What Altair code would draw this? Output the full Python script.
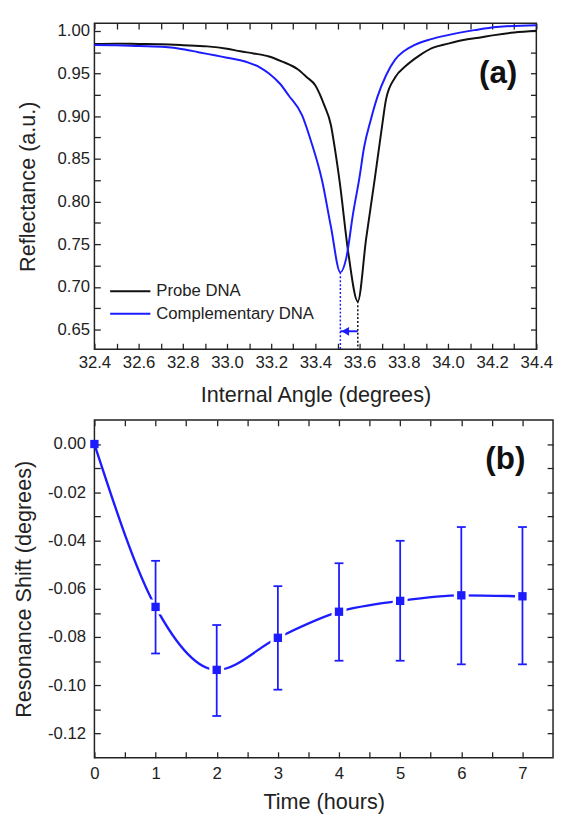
import altair as alt
import pandas as pd

# ---------------- Panel (a): SPR reflectance curves ----------------
probe_angle = [32.40, 32.50, 32.60, 32.70, 32.80, 32.91, 33.00, 33.06, 33.12, 33.19,
               33.25, 33.32, 33.36, 33.40, 33.44, 33.47, 33.49, 33.51, 33.55, 33.592,
               33.63, 33.67, 33.70, 33.72, 33.76, 33.81, 33.87, 33.93, 34.00, 34.07,
               34.14, 34.21, 34.30, 34.40]
probe_refl = [0.9845, 0.9850, 0.9846, 0.9842, 0.9832, 0.9818, 0.9790, 0.9760, 0.9735, 0.9700,
              0.9640, 0.9550, 0.9460, 0.9360, 0.9130, 0.8900, 0.8590, 0.8230, 0.7380, 0.6830,
              0.7570, 0.8290, 0.8850, 0.9200, 0.9450, 0.9590, 0.9710, 0.9800, 0.9850, 0.9893,
              0.9920, 0.9950, 0.9980, 1.0000]

comp_angle = [32.40, 32.50, 32.60, 32.72, 32.80, 32.87, 32.95, 33.00, 33.06, 33.10,
              33.15, 33.19, 33.24, 33.28, 33.34, 33.38, 33.43, 33.47, 33.513, 33.54,
              33.57, 33.60, 33.62, 33.65, 33.68, 33.72, 33.76, 33.80, 33.85, 33.92,
              34.00, 34.12, 34.22, 34.40]
comp_refl = [0.9835, 0.9832, 0.9822, 0.9810, 0.9785, 0.9750, 0.9710, 0.9685, 0.9655, 0.9625,
             0.9570, 0.9500, 0.9380, 0.9240, 0.9010, 0.8710, 0.8250, 0.7710, 0.7170, 0.7340,
             0.7850, 0.8290, 0.8630, 0.8950, 0.9220, 0.9480, 0.9660, 0.9760, 0.9836, 0.9900,
             0.9950, 1.0008, 1.0046, 1.0066]

series_names = ["Probe DNA", "Complementary DNA"]
series_colors = ["#111111", "#1c1cff"]

min_angles = [33.592, 33.513]
min_refls = [0.683, 0.717]
arrow_refl = 0.648

angle_domain = [32.4, 34.4]
refl_domain = [0.627, 1.009]
angle_ticks = [32.4, 32.5, 32.6, 32.7, 32.8, 32.9, 33.0, 33.1, 33.2, 33.3, 33.4,
               33.5, 33.6, 33.7, 33.8, 33.9, 34.0, 34.1, 34.2, 34.3, 34.4]
refl_ticks = [0.65, 0.675, 0.70, 0.725, 0.75, 0.775, 0.80, 0.825, 0.85, 0.875,
              0.90, 0.925, 0.95, 0.975, 1.00]

# ---------------- Panel (b): resonance shift vs time ----------------
time_h = [0, 1, 2, 3, 4, 5, 6, 7]
shift = [0.0, -0.0675, -0.0936, -0.0803, -0.0695, -0.0650, -0.0627, -0.0631]
err_time = [1, 2, 3, 4, 5, 6, 7]
err_low = [-0.0868, -0.1127, -0.1018, -0.0898, -0.0898, -0.0913, -0.0913]
err_high = [-0.0484, -0.0750, -0.0589, -0.0494, -0.0401, -0.0344, -0.0344]

time_domain = [0, 7.5]
shift_domain = [-0.13, 0.01]
time_ticks = [0, 0.5, 1, 1.5, 2, 2.5, 3, 3.5, 4, 4.5, 5, 5.5, 6, 6.5, 7]
shift_ticks = [-0.12, -0.11, -0.10, -0.09, -0.08, -0.07, -0.06, -0.05, -0.04,
               -0.03, -0.02, -0.01, 0.00]

BLUE = "#1c1cff"
FONT = "Liberation Sans"
INK = "#222222"

W_A, H_A = 450, 332
W_B, H_B = 467, 344


def axis(orient, values, label_expr=None, title=None, label_pad=6, title_pad=10, labels=True):
    kw = dict(orient=orient, values=values, domain=False, ticks=True, tickSize=6,
              offset=-6, tickWidth=1.3, tickColor=INK, grid=False,
              labelFontSize=17, labelFont=FONT, labelColor=INK, labelPadding=label_pad,
              labelFlush=False, labelOverlap=False, labels=labels,
              titleFontSize=22, titleFont=FONT, titleColor=INK,
              titleFontWeight="normal", titlePadding=title_pad)
    if label_expr is not None:
        kw["labelExpr"] = label_expr
    return alt.Axis(title=title, **kw)


# ---------- chart (a) ----------
curves = pd.DataFrame({
    "angle": probe_angle + comp_angle,
    "refl": probe_refl + comp_refl,
    "series": [series_names[0]] * len(probe_angle) + [series_names[1]] * len(comp_angle),
})
mins = pd.DataFrame({"angle": min_angles, "refl": min_refls, "series": series_names})
arrow = pd.DataFrame({"a1": [min_angles[1]], "a2": [min_angles[0]], "refl": [arrow_refl]})
lab_a = pd.DataFrame({"angle": [34.227], "refl": [0.950], "text": ["(a)"]})

xs_a = alt.Scale(domain=angle_domain, nice=False, zero=False)
ys_a = alt.Scale(domain=refl_domain, nice=False, zero=False)
color_a = alt.Scale(domain=series_names, range=series_colors)

x_lab_a = "round(datum.value*10) % 2 == 0 ? format(datum.value, '.1f') : ''"
y_lab_a = "abs(datum.value*20 - round(datum.value*20)) < 0.001 ? format(datum.value, '.2f') : ''"

line_a = alt.Chart(curves).mark_line(strokeWidth=2, interpolate="monotone").encode(
    x=alt.X("angle:Q", scale=xs_a,
            axis=axis("bottom", angle_ticks, x_lab_a, "Internal Angle (degrees)", 6, 14)),
    y=alt.Y("refl:Q", scale=ys_a,
            axis=axis("left", refl_ticks, y_lab_a, "Reflectance (a.u.)", 5, 18)),
    color=alt.Color("series:N", scale=color_a,
                    legend=alt.Legend(title=None, orient="none", legendX=15, legendY=264,
                                      direction="vertical", symbolType="stroke",
                                      symbolSize=1681, symbolStrokeWidth=2, clipHeight=18,
                                      rowPadding=5, labelFontSize=17, labelFont=FONT,
                                      labelColor=INK, labelOffset=5, labelLimit=0,
                                      padding=0)),
)

dots_a = alt.Chart(mins).mark_rule(strokeDash=[2, 2], strokeWidth=1.5).encode(
    x=alt.X("angle:Q", scale=xs_a, axis=None),
    y=alt.Y("refl:Q", scale=ys_a, axis=None),
    y2=alt.value(H_A),
    color=alt.Color("series:N", scale=color_a, legend=None),
)

arrow_line = alt.Chart(arrow).mark_rule(color=BLUE, strokeWidth=2).encode(
    x=alt.X("a1:Q", scale=xs_a, axis=None),
    x2="a2:Q",
    y=alt.Y("refl:Q", scale=ys_a, axis=None),
)
arrow_head = alt.Chart(arrow).mark_point(shape="triangle-left", filled=True, opacity=1,
                                         color=BLUE, size=80).encode(
    x=alt.X("a1:Q", scale=xs_a, axis=None),
    y=alt.Y("refl:Q", scale=ys_a, axis=None),
    xOffset=alt.value(5),
)

text_a = alt.Chart(lab_a).mark_text(fontSize=32, fontWeight="bold", font=FONT,
                                    color="#111111").encode(
    x=alt.X("angle:Q", scale=xs_a, axis=None),
    y=alt.Y("refl:Q", scale=ys_a, axis=None),
    text="text:N",
)

mirror_a = alt.Chart(curves).mark_point(opacity=0).encode(
    x=alt.X("angle:Q", scale=xs_a, axis=axis("top", angle_ticks, labels=False)),
    y=alt.Y("refl:Q", scale=ys_a, axis=axis("right", refl_ticks, labels=False)),
)

chart_a = alt.layer(line_a, dots_a, arrow_line, arrow_head, text_a, mirror_a).resolve_axis(
    x="independent", y="independent").properties(width=W_A, height=H_A)

# ---------- chart (b) ----------
pts = pd.DataFrame({"time": time_h, "shift": shift})
errs = pd.DataFrame({"time": err_time, "low": err_low, "high": err_high})
lab_b = pd.DataFrame({"time": [6.72], "shift": [-0.0064], "text": ["(b)"]})

xs_b = alt.Scale(domain=time_domain, nice=False, zero=False)
ys_b = alt.Scale(domain=shift_domain, nice=False, zero=False)

x_lab_b = "abs(datum.value - round(datum.value)) < 0.001 ? format(datum.value, 'd') : ''"
y_lab_b = ("abs(round(datum.value*100)) % 2 == 0 ? "
           "(datum.value < -0.0001 ? '-' : '') + format(abs(datum.value), '.2f') : ''")

line_b = alt.Chart(pts).mark_line(color=BLUE, strokeWidth=2.4, interpolate="monotone").encode(
    x=alt.X("time:Q", scale=xs_b,
            axis=axis("bottom", time_ticks, x_lab_b, "Time (hours)", 8, 11)),
    y=alt.Y("shift:Q", scale=ys_b,
            axis=axis("left", shift_ticks, y_lab_b, "Resonance Shift (degrees)", 9, 12)),
)

gap_b = alt.Chart(pts).transform_filter("datum.time > 0").mark_square(
    size=230, color="white", opacity=1, filled=True).encode(
    x=alt.X("time:Q", scale=xs_b, axis=None),
    y=alt.Y("shift:Q", scale=ys_b, axis=None),
)

err_rule = alt.Chart(errs).mark_rule(color=BLUE, strokeWidth=1.8).encode(
    x=alt.X("time:Q", scale=xs_b, axis=None),
    y=alt.Y("low:Q", scale=ys_b, axis=None),
    y2="high:Q",
)
err_caps = alt.Chart(errs).transform_fold(["low", "high"], as_=["end", "val"]).mark_tick(
    orient="horizontal", size=9, thickness=1.8, color=BLUE, opacity=1).encode(
    x=alt.X("time:Q", scale=xs_b, axis=None),
    y=alt.Y("val:Q", scale=ys_b, axis=None),
)

marks_b = alt.Chart(pts).mark_square(size=72, color=BLUE, opacity=1, filled=True).encode(
    x=alt.X("time:Q", scale=xs_b, axis=None),
    y=alt.Y("shift:Q", scale=ys_b, axis=None),
)

text_b = alt.Chart(lab_b).mark_text(fontSize=32, fontWeight="bold", font=FONT,
                                    color="#111111").encode(
    x=alt.X("time:Q", scale=xs_b, axis=None),
    y=alt.Y("shift:Q", scale=ys_b, axis=None),
    text="text:N",
)

mirror_b = alt.Chart(pts).mark_point(opacity=0).encode(
    x=alt.X("time:Q", scale=xs_b, axis=axis("top", time_ticks, labels=False)),
    y=alt.Y("shift:Q", scale=ys_b, axis=axis("right", shift_ticks, labels=False)),
)

chart_b = alt.layer(line_b, gap_b, err_rule, err_caps, marks_b, text_b, mirror_b).resolve_axis(
    x="independent", y="independent").properties(width=W_B, height=H_B)

chart = alt.vconcat(chart_a, chart_b, spacing=12).properties(
    padding={"left": 4, "top": 5, "right": 0, "bottom": 0},
    background="white",
).configure_view(stroke=INK, strokeWidth=1.5)

chart.save("out.html", embed_options={"renderer": "svg", "actions": False})
